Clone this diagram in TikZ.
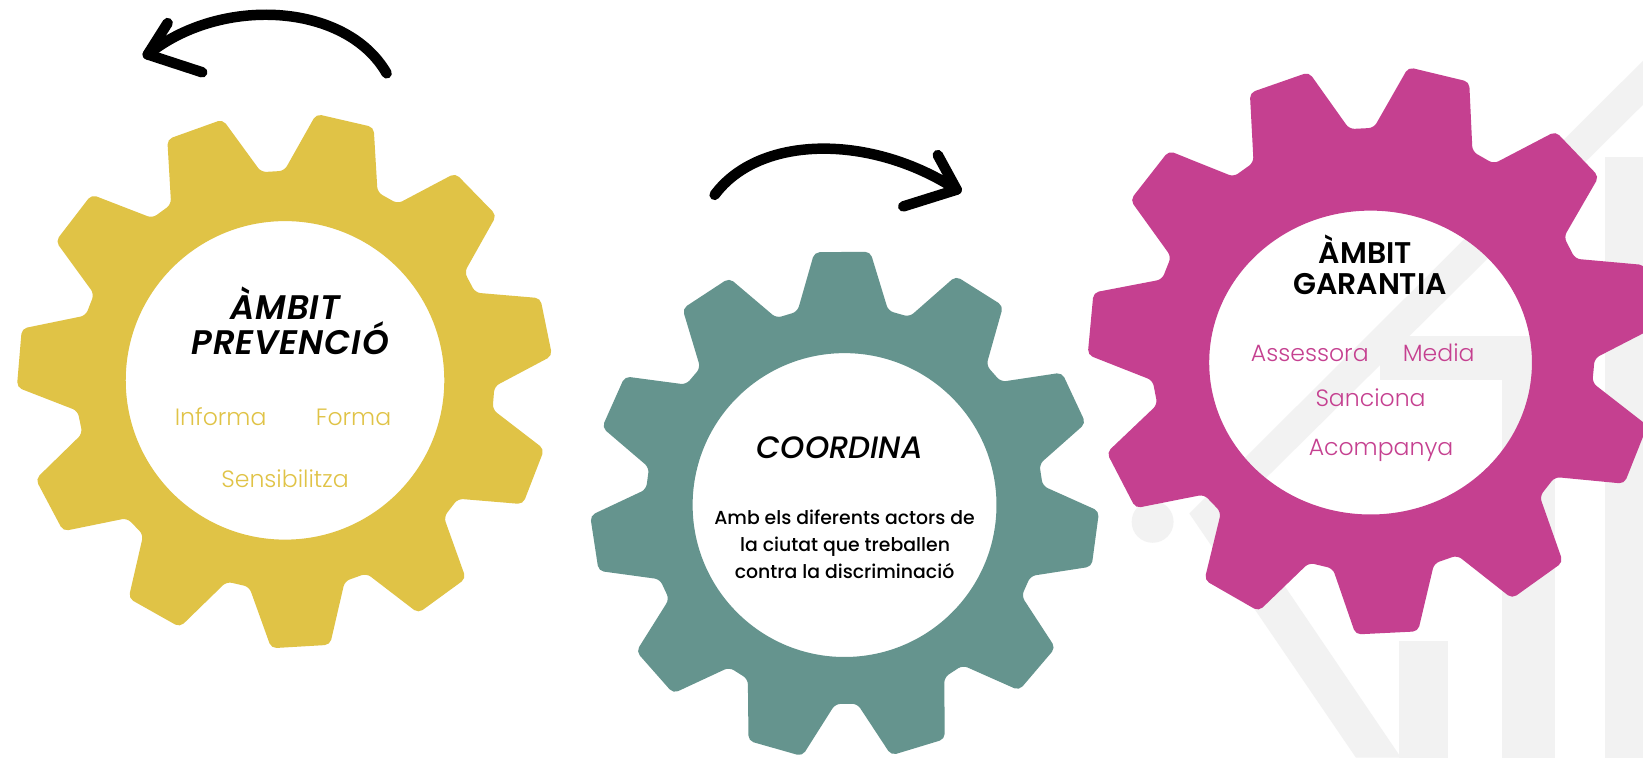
\documentclass[tikz,border=0pt]{standalone}
\usepackage{fontspec}
\setmainfont{Poppins}
\newfontfamily\popsemi{Poppins}[UprightFont=* SemiBold, ItalicFont=* SemiBold Italic, BoldFont=* Bold, LetterSpace=2.5]
\newfontfamily\popmsemi{Poppins}[UprightFont=* SemiBold, ItalicFont=* SemiBold Italic, BoldFont=* Bold]
\newfontfamily\popmed{Poppins}[UprightFont=* Medium, ItalicFont=* Medium Italic, BoldFont=* SemiBold]
\newfontfamily\poplight{Poppins}[UprightFont=* Light, ItalicFont=* Light Italic, BoldFont=* Regular]
\usetikzlibrary{calc}
\definecolor{gyellow}{RGB}{224,195,70}
\definecolor{gteal}{RGB}{101,148,142}
\definecolor{gmag}{RGB}{197,64,144}
\definecolor{wmark}{RGB}{242,242,242}
% gear outline: #1 tip radius, #2 root radius, #3 angle of first tooth (clockwise from top)
\newcommand{\gearpath}[3]{%
 ({#3-90-13.2}:#2)
 \foreach \k in {0,...,9}{
  -- ({#3-90+32.7273*\k-6.3}:#1) -- ({#3-90+32.7273*\k+6.3}:#1)
  -- ({#3-90+32.7273*\k+13.2}:#2) -- ({#3-90+32.7273*(\k+1)-13.2}:#2)
 }
 -- ({#3-90+327.273-6.3}:#1) -- ({#3-90+327.273+6.3}:#1)
 -- ({#3-90+327.273+13.2}:#2) -- cycle
}
\begin{document}
\begin{tikzpicture}[x=1pt,y=-1pt,
  gearfill/.style={fill=#1, rounded corners=5pt, even odd rule},
  headtxt/.style={font=\fontsize{32.5}{34}\popsemi\itshape, text=black, inner sep=0pt, anchor=base},
  headtxtm/.style={font=\fontsize{28.5}{30}\popmsemi, text=black, inner sep=0pt, anchor=base},
  coordtxt/.style={font=\fontsize{29.5}{32}\popmed\itshape, text=black, inner sep=0pt, anchor=base},
  bodytxt/.style={font=\fontsize{18}{20}\popmed, text=black, inner sep=0pt, anchor=base},
  item/.style={font=\fontsize{22.5}{24}\poplight, text=#1, inner sep=0pt, anchor=base},
  brush/.style={draw=black, line width=10pt, line cap=round, line join=round},
  wm/.style={fill=wmark}
]
\useasboundingbox (0,0) rectangle (1568,723);
\clip (0,0) rectangle (1568,723);
\fill[white] (0,0) rectangle (1568,723);

% faint watermark logo
\fill[wm] (1135,490) -- (1568,58) -- (1568,100) -- (1177,487) -- (1337,723) -- (1294,723) -- cycle;
\fill[wm] (1100,498) circle (20);
\fill[wm] (1335,612) rectangle (1382,723);
\fill[wm] (1433,330) rectangle (1484,723);
\fill[wm] (1532,150) rectangle (1568,723);
\fill[wm] (1317,321) rectangle (1484,363);

% gears
\begin{scope}[shift={(272,363)}]
  \fill[gearfill=gyellow] \gearpath{256}{200}{13} (0,0) circle (152);
\end{scope}
\begin{scope}[shift={(806,482)}]
  \fill[gearfill=gteal] \gearpath{243}{190}{-0.5} (0,0) circle (145);
\end{scope}
\begin{scope}[shift={(1310,334)}]
  \fill[gearfill=gmag] \gearpath{272}{212}{13.5} (-2,12) ellipse [x radius=154, y radius=145];
\end{scope}

% texts: yellow gear
\node[headtxt] (y1) at (272,304.7) {ÀMBIT};
\node[headtxt] (y2) at (277,338) {PREVENCIÓ};
\node[item=gyellow] (y3) at (210.6,405.9) {Informa};
\node[item=gyellow] (y4) at (337.4,405.9) {Forma};
\node[item=gyellow] (y5) at (272,465.6) {Sensibilitza};

% texts: teal gear
\node[coordtxt] (t1) at (801.5,438) {COORDINA};
\node[bodytxt] (t2) at (806,501) {Amb els diferents actors de};
\node[bodytxt] (t3) at (806.5,526.5) {la ciutat que treballen};
\node[bodytxt] (t4) at (806,552) {contra la discriminació};

% texts: magenta gear
\node[headtxtm] (m1) at (1303,251.9) {ÀMBIT};
\node[headtxtm] (m2) at (1307.5,281) {GARANTIA};
\node[item=gmag] (m3) at (1250,345) {Assessora};
\node[item=gmag] (m4) at (1373,345) {Media};
\node[item=gmag] (m5) at (1308,388.4) {Sanciona};
\node[item=gmag] (m6) at (1318,434.3) {Acompanya};

% hand-drawn arrows
\coordinate (a1s) at (369,70);
\coordinate (a1e) at (141,52);
\coordinate (a1u) at (160,22);
\coordinate (a1l) at (193,69);
\draw[brush] (a1s) .. controls (330,2) and (210,-4) .. (a1e);
\draw[brush] (a1u) -- (a1e) -- (a1l);

\coordinate (a2s) at (682,186);
\coordinate (a2e) at (913,181);
\coordinate (a2u) at (895,148);
\coordinate (a2l) at (862,197);
\draw[brush] (a2s) .. controls (725,128) and (832,128) .. (a2e);
\draw[brush] (a2u) -- (a2e) -- (a2l);
\end{tikzpicture}
\end{document}
